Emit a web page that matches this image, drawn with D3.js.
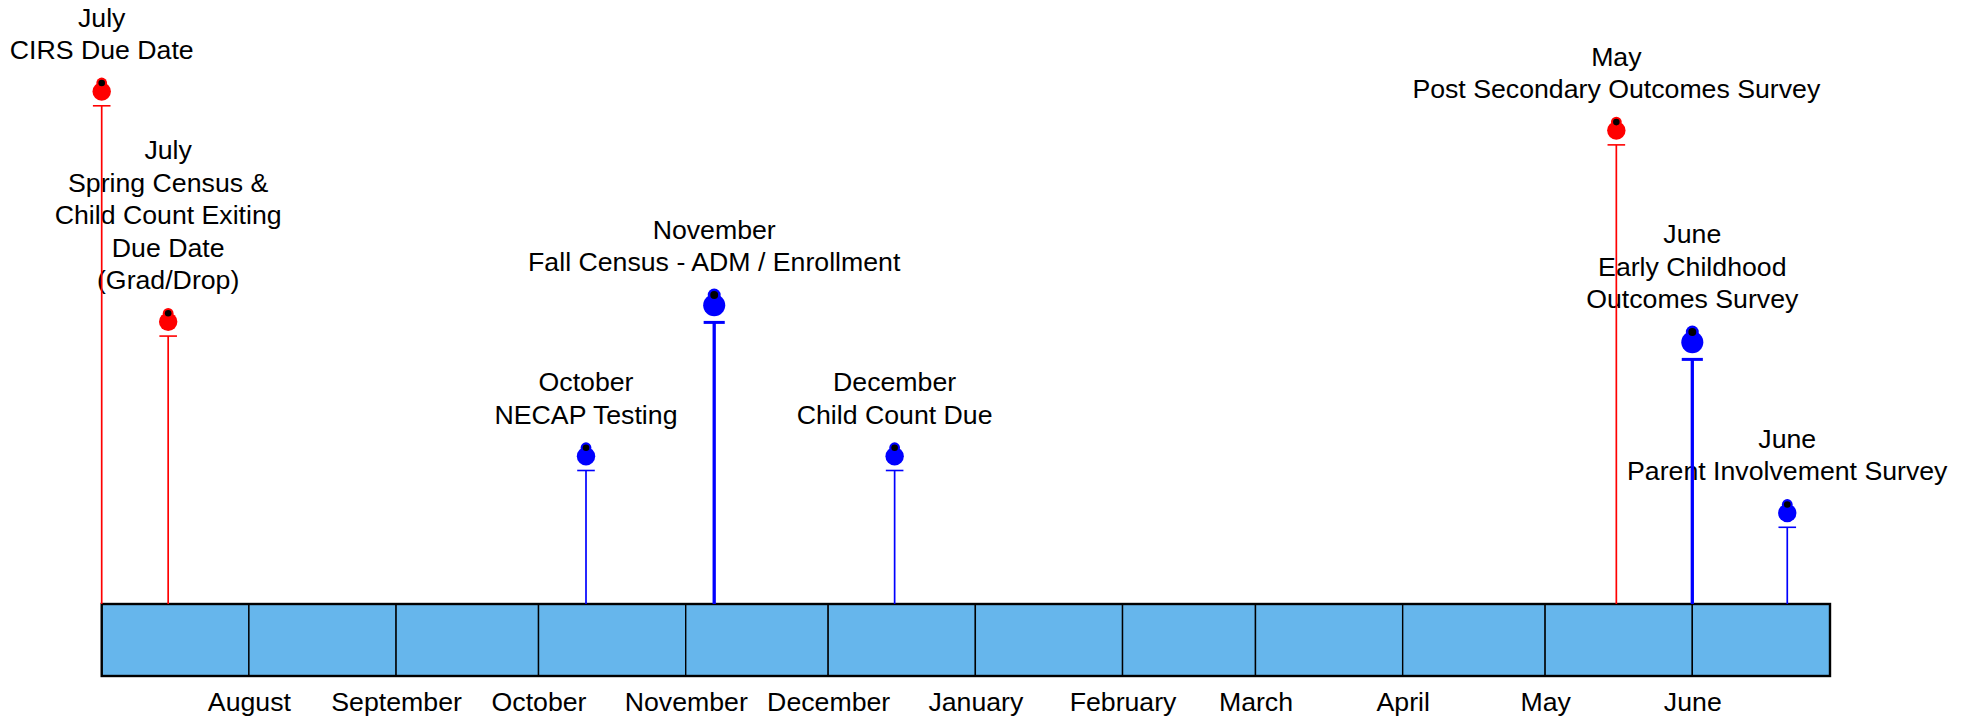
<!DOCTYPE html>
<html>
<head>
<meta charset="utf-8">
<script src="https://cdn.jsdelivr.net/npm/d3@7"></script>
<style>
  body { margin: 0; background: #fff; }
  text { font-family: "Liberation Sans", Arial, sans-serif; font-size: 26.7px; fill: #000; }
</style>
</head>
<body>
<main></main>
<script>
const width = 1973;
const height = 720;
const barTop = 604;
const barBottom = 676;
const lineGap = 32.5;

// school year range shown on the strip
const yearStart = '2012-07-01';
const yearEnd = '2013-06-30';

const monthLabels = ['August', 'September', 'October', 'November', 'December', 'January',
                     'February', 'March', 'April', 'May', 'June'];

const eventDates = ['2012-07-01', '2012-07-15', '2012-10-11', '2012-11-07',
                    '2012-12-15', '2013-05-16', '2013-06-01', '2013-06-21'];
const eventLevels = [100, 55.8, 30, 59.3, 30, 92.5, 52.2, 19.1];
const eventGroups = ['red', 'red', 'blue', 'blue', 'blue', 'red', 'blue', 'blue'];
const eventMajor = [false, false, false, true, false, false, true, false];
const eventLines = [
    ['July', 'CIRS Due Date'],
    ['July', 'Spring Census &', 'Child Count Exiting', 'Due Date', '(Grad/Drop)'],
    ['October', 'NECAP Testing'],
    ['November', 'Fall Census - ADM / Enrollment'],
    ['December', 'Child Count Due'],
    ['May', 'Post Secondary Outcomes Survey'],
    ['June', 'Early Childhood', 'Outcomes Survey'],
    ['June', 'Parent Involvement Survey']
];

const parseDate = d3.timeParse('%Y-%m-%d');

const createSvg = () => {
    return d3.select('main')
             .append('svg')
             .attr('width', width)
             .attr('height', height);
};

const createScales = () => {
    const xScale = d3.scaleTime()
                     .domain([parseDate(yearStart), parseDate(yearEnd)])
                     .range([101.7, 1830]);
    const yScale = d3.scaleLinear()
                     .domain([0, 100])
                     .range([barTop, 83]);
    const colorScale = d3.scaleOrdinal()
                         .domain(['red', 'blue'])
                         .range(['#ff0000', '#0000ff']);
    return {xScale, yScale, colorScale};
};

const createStrip = (svg, scales) => {
    const [d0, d1] = scales.xScale.domain();
    const months = d3.timeMonth.range(d0, d3.timeDay.offset(d1, 1));

    svg.append('g')
       .selectAll('rect')
       .data(months)
       .enter()
       .append('rect')
       .attr('x', (d) => scales.xScale(d))
       .attr('y', barTop)
       .attr('width', (d) => scales.xScale(d3.min([d3.timeMonth.offset(d, 1), d1])) - scales.xScale(d))
       .attr('height', barBottom - barTop)
       .attr('fill', '#66b6ec')
       .attr('stroke', '#000')
       .attr('stroke-width', 1.4);

    svg.append('rect')
       .attr('x', scales.xScale(d0))
       .attr('y', barTop)
       .attr('width', scales.xScale(d1) - scales.xScale(d0))
       .attr('height', barBottom - barTop)
       .attr('fill', 'none')
       .attr('stroke', '#000')
       .attr('stroke-width', 2.4);

    const ticks = months.slice(1);
    const axis = svg.append('g')
       .attr('transform', 'translate(0, ' + barBottom + ')')
       .call(d3.axisBottom(scales.xScale)
               .tickValues(ticks)
               .tickSize(0)
               .tickPadding(16)
               .tickFormat((d, i) => monthLabels[i]));
    axis.select('.domain').remove();
    axis.selectAll('text')
        .attr('fill', '#000')
        .style('font-size', '26.7px')
        .style('font-family', '"Liberation Sans", Arial, sans-serif');
};

const createEvents = (svg, scales) => {
    const data = eventDates.map((d, i) => ({
        date: parseDate(d),
        level: eventLevels[i],
        group: eventGroups[i],
        major: eventMajor[i],
        lines: eventLines[i]
    }));

    // titles first, the stems are painted over them
    svg.append('g')
       .selectAll('text')
       .data(data)
       .enter()
       .append('text')
       .attr('text-anchor', 'middle')
       .each(function (d) {
           const x = scales.xScale(d.date);
           const last = scales.yScale(d.level) - 24;
           const n = d.lines.length;
           d3.select(this)
             .selectAll('tspan')
             .data(d.lines)
             .enter()
             .append('tspan')
             .attr('x', x)
             .attr('y', (t, j) => last - (n - 1 - j) * lineGap)
             .text((t) => t);
       });

    const pins = svg.append('g')
                    .selectAll('g')
                    .data(data)
                    .enter()
                    .append('g')
                    .attr('transform', (d) => 'translate(' + scales.xScale(d.date) + ', ' + scales.yScale(d.level) + ')');

    const k = (d) => d.major ? 1.2 : 1;

    pins.append('line')
        .attr('x1', 0)
        .attr('x2', 0)
        .attr('y1', (d) => 22.8 * k(d))
        .attr('y2', (d) => barTop - scales.yScale(d.level))
        .attr('stroke', (d) => scales.colorScale(d.group))
        .attr('stroke-width', (d) => d.major ? 3.3 : 1.7);

    pins.append('line')
        .attr('x1', (d) => -8.8 * k(d))
        .attr('x2', (d) => 8.8 * k(d))
        .attr('y1', (d) => 22.8 * k(d))
        .attr('y2', (d) => 22.8 * k(d))
        .attr('stroke', (d) => scales.colorScale(d.group))
        .attr('stroke-width', (d) => d.major ? 3 : 1.6);

    pins.append('circle')
        .attr('cy', (d) => 8.5 * k(d))
        .attr('r', (d) => 9.2 * k(d))
        .attr('fill', (d) => scales.colorScale(d.group));

    pins.append('circle')
        .attr('r', (d) => 5.4 * k(d))
        .attr('fill', (d) => scales.colorScale(d.group));

    pins.append('circle')
        .attr('r', (d) => 3.3 * k(d))
        .attr('fill', '#000');
};

const driver = () => {
    const svg = createSvg();
    const scales = createScales();
    createStrip(svg, scales);
    createEvents(svg, scales);
};

driver();
</script>
</body>
</html>
